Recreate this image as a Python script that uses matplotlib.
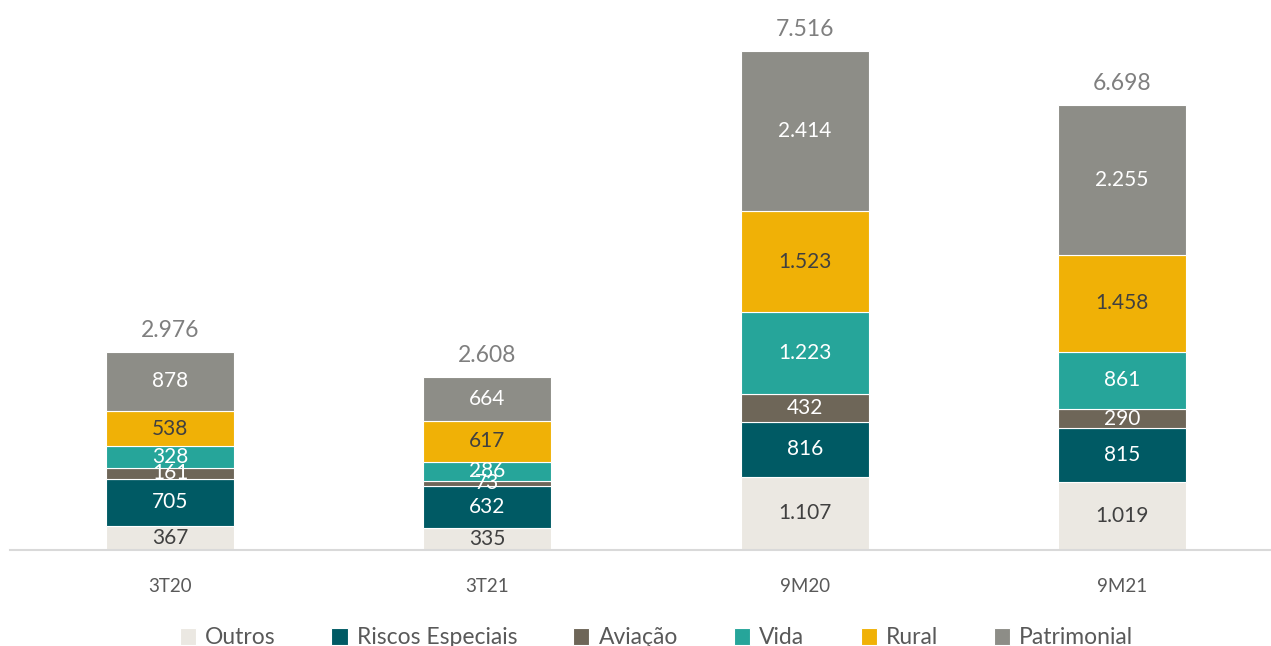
import numpy as np
import matplotlib.pyplot as plt

plt.rcParams['font.family'] = ['Lato', 'DejaVu Sans']

categories = ['3T20', '3T21', '9M20', '9M21']
series_names = ['Outros', 'Riscos Especiais', 'Aviação', 'Vida', 'Rural', 'Patrimonial']
outros = [367, 335, 1107, 1019]
riscos = [705, 632, 816, 815]
aviacao = [161, 73, 432, 290]
vida = [328, 286, 1223, 861]
rural = [538, 617, 1523, 1458]
patrimonial = [878, 664, 2414, 2255]
totals = [2976, 2608, 7516, 6698]

series = [outros, riscos, aviacao, vida, rural, patrimonial]
colors = ['#EBE8E2', '#005A64', '#6E6658', '#26A59A', '#F0B106', '#8D8D87']
label_colors = ['#404040', 'white', 'white', 'white', '#404040', 'white']


def fmt(v):
    return f'{v:,}'.replace(',', '.')


fig = plt.figure(figsize=(12.71, 6.46), dpi=100)
ax = fig.add_axes([10 / 1271, 1 - 550 / 646, 1261 / 1271, 550 / 646])

x = np.arange(len(categories))
bottom = np.zeros(len(categories))
for name, vals, c, lc in zip(series_names, series, colors, label_colors):
    vals = np.array(vals)
    ax.bar(x, vals, 0.403, bottom=bottom, color=c, edgecolor='white',
           linewidth=0.8, label=name)
    for xi, b, v in zip(x, bottom, vals):
        ax.text(xi, b + v / 2, fmt(v), ha='center', va='center',
                fontsize=15, color=lc)
    bottom += vals

for xi, t in zip(x, totals):
    ax.text(xi, t + 170, fmt(t), ha='center', va='bottom', fontsize=16.5,
            color='#7F7F7F')

ax.set_xlim(-160 / 317.33, 3 + 149 / 317.33)
ax.set_ylim(0, 550 * 7516 / 499)
for s in ['top', 'right', 'left']:
    ax.spines[s].set_visible(False)
ax.spines['bottom'].set_color('#D9D9D9')
ax.spines['bottom'].set_linewidth(1.5)
ax.set_yticks([])
ax.set_xticks(x)
ax.set_xticklabels(categories, fontsize=13.5, color='#595959')
ax.tick_params(axis='x', length=0, pad=20)

fig.legend(loc='center', bbox_to_anchor=(0.5 + 21 / 1271, 1 - 638 / 646), ncol=6,
           frameon=False, fontsize=16.5, labelcolor='#595959',
           handlelength=0.7, handleheight=0.7, handletextpad=0.4,
           columnspacing=2.45)

fig.savefig('out.png', dpi=100)
